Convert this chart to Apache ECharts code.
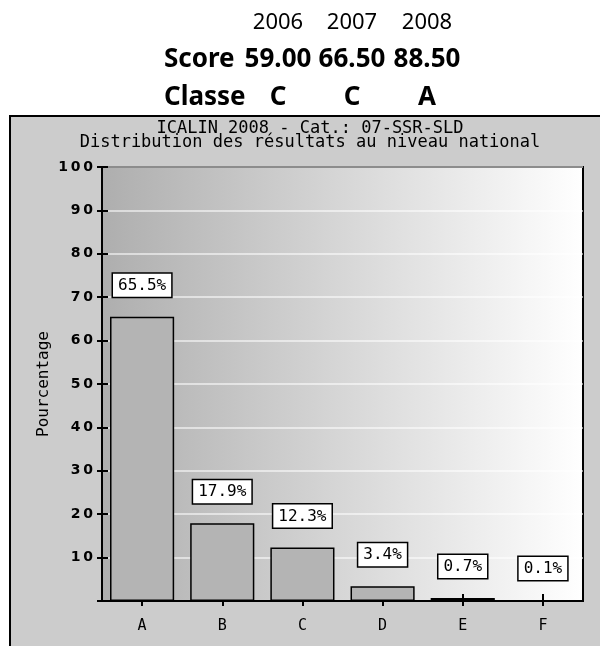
<!DOCTYPE html>
<html><head><meta charset="utf-8">
<script src="https://cdn.jsdelivr.net/npm/echarts@6/dist/echarts.min.js"></script>
<style>html,body{margin:0;padding:0;background:#fff}#c{width:600px;height:646px}</style>
</head><body><div id="c"></div>
<script>
const years = ['2006', '2007', '2008'];
const scores = ['59.00', '66.50', '88.50'];
const classes = ['C', 'C', 'A'];
const rowLabels = ['Score', 'Classe'];
const titleLines = ['ICALIN 2008 - Cat.: 07-SSR-SLD', 'Distribution des résultats au niveau national'];
const yName = 'Pourcentage';
const categories = ['A', 'B', 'C', 'D', 'E', 'F'];
const percentages = [65.5, 17.9, 12.3, 3.4, 0.7, 0.1];

const MONO = '"DejaVu Sans Mono", "Liberation Mono", monospace';
const SANS = '"Noto Sans", "Open Sans", sans-serif';
const colX = [278, 352, 427];

const texts = [];
years.forEach((t, i) => texts.push({type: 'text', x: colX[i], y: 23, style: {text: t, font: '22px ' + SANS, fill: '#000', align: 'center', verticalAlign: 'middle'}}));
texts.push({type: 'text', x: 164, y: 60, style: {text: rowLabels[0], font: 'bold 26px ' + SANS, fill: '#000', align: 'left', verticalAlign: 'middle'}});
scores.forEach((t, i) => texts.push({type: 'text', x: colX[i], y: 60, style: {text: t, font: 'bold 26px ' + SANS, fill: '#000', align: 'center', verticalAlign: 'middle'}}));
texts.push({type: 'text', x: 164, y: 98, style: {text: rowLabels[1], font: 'bold 26px ' + SANS, fill: '#000', align: 'left', verticalAlign: 'middle'}});
classes.forEach((t, i) => texts.push({type: 'text', x: colX[i], y: 98, style: {text: t, font: 'bold 26px ' + SANS, fill: '#000', align: 'center', verticalAlign: 'middle'}}));

const chart = echarts.init(document.getElementById('c'));
const spaced = v => String(v).split('').join('\u2009');
chart.setOption({
  animation: false,
  graphic: {elements: [
    {type: 'rect', z: -100, shape: {x: 10, y: 116, width: 620, height: 560}, style: {fill: '#cccccc', stroke: '#000', lineWidth: 2}},
    ...texts
  ]},
  title: {
    text: titleLines.join('\n'),
    left: 305, top: 117, textAlign: 'center',
    textStyle: {fontFamily: MONO, fontSize: 17, fontWeight: 'normal', color: '#000', lineHeight: 14}
  },
  grid: {
    left: 102, top: 167, right: 17, bottom: 45,
    show: true, borderColor: '#000', borderWidth: 2,
    backgroundColor: new echarts.graphic.LinearGradient(0, 0, 1, 0, [
      {offset: 0, color: '#aeaeae'}, {offset: 1, color: '#ffffff'}
    ])
  },
  xAxis: [{
    type: 'category', data: categories,
    axisLine: {lineStyle: {color: '#000', width: 2}},
    axisTick: {show: true, alignWithLabel: true, length: 5, lineStyle: {color: '#000', width: 2}},
    axisLabel: {fontFamily: MONO, fontSize: 15, color: '#000', margin: 18}
  }, {
    type: 'category', data: categories, position: 'bottom',
    axisLine: {show: false},
    axisTick: {show: true, inside: true, alignWithLabel: true, length: 7, lineStyle: {color: '#000', width: 2}},
    axisLabel: {show: false}
  }],
  yAxis: [{
    type: 'value', min: 0, max: 100, interval: 10,
    name: yName, nameLocation: 'middle', nameGap: 50, nameRotate: 90, nameMoveOverlap: false,
    nameTextStyle: {fontFamily: MONO, fontSize: 16, color: '#000'},
    axisLine: {show: true, lineStyle: {color: '#000', width: 2}},
    axisTick: {show: true, length: 5, lineStyle: {color: '#000', width: 2}},
    axisLabel: {fontFamily: '"DejaVu Sans", sans-serif', fontSize: 14, fontWeight: 'bold', color: '#000', margin: 9,
      formatter: v => v === 0 ? '' : spaced(v)},
    splitLine: {show: true, lineStyle: {color: 'rgba(255,255,255,0.55)', width: 2}}
  }, {
    type: 'value', min: 0, max: 100, interval: 10, position: 'left',
    axisLine: {show: false},
    axisTick: {show: true, inside: true, length: 6, lineStyle: {color: '#000', width: 2}},
    axisLabel: {show: false}, splitLine: {show: false}
  }],
  series: [{
    type: 'bar', data: percentages, barWidth: '80%',
    itemStyle: {color: '#b4b4b4', borderColor: '#000', borderWidth: 1.5},
    label: {
      show: true, position: 'top', distance: 20,
      formatter: p => p.value.toFixed(1) + '%',
      fontFamily: MONO, fontSize: 16, color: '#000',
      backgroundColor: '#fff', borderColor: '#000', borderWidth: 1.5,
      padding: [4, 5, 3, 5]
    }
  }]
});
</script></body></html>
